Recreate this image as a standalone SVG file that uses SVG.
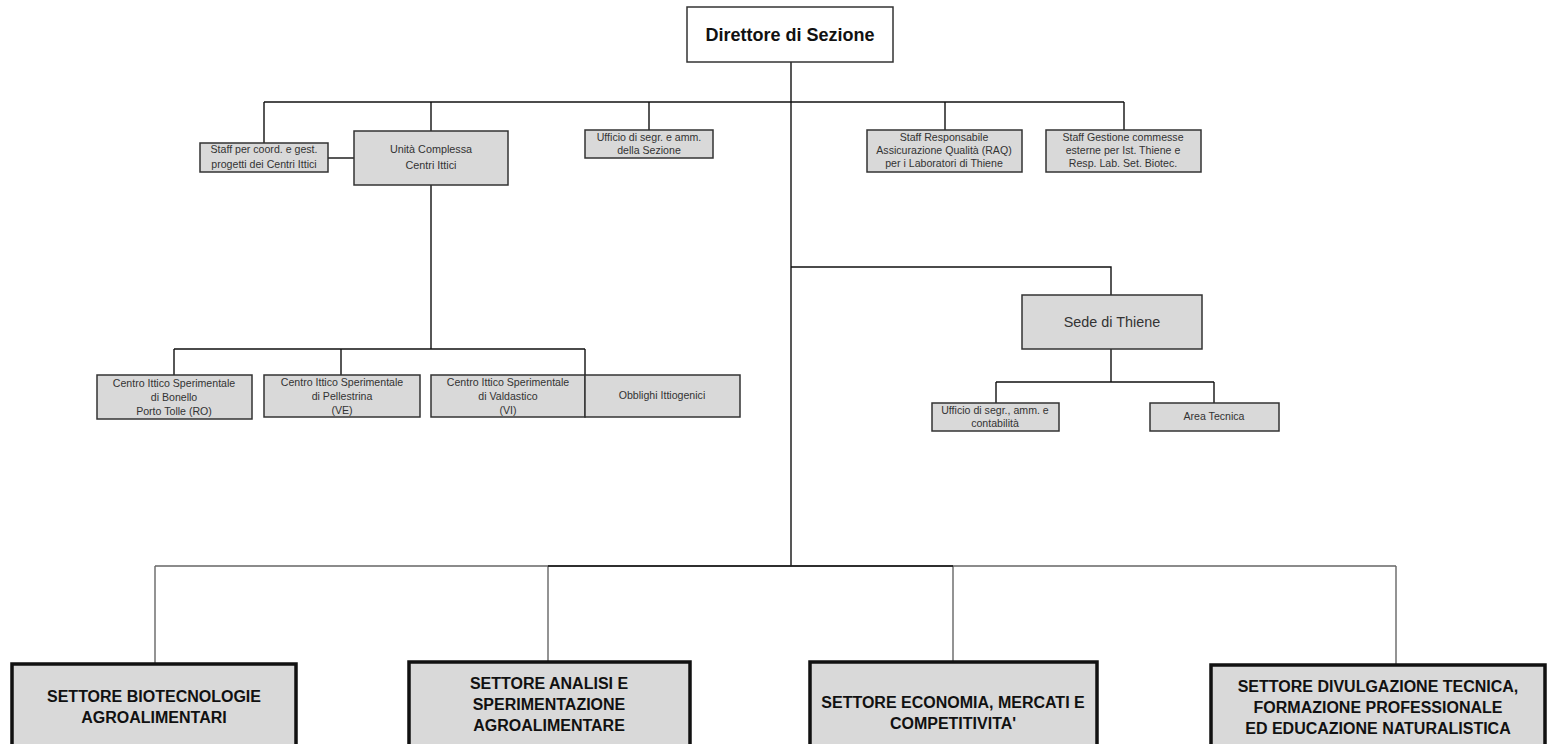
<svg xmlns="http://www.w3.org/2000/svg" width="1552" height="744" viewBox="0 0 1552 744">
<style>
.bx{fill:#d9d9d9;stroke:#333;stroke-width:1.5}
.big{fill:#d9d9d9;stroke:#111;stroke-width:3.5}
.t{font-family:"Liberation Sans",Arial,sans-serif;font-size:10.6px;fill:#333;text-anchor:middle}
.tm{font-family:"Liberation Sans",Arial,sans-serif;font-size:10.8px;fill:#333;text-anchor:middle}
.tb{font-family:"Liberation Sans",Arial,sans-serif;font-size:16px;font-weight:bold;fill:#111;text-anchor:middle}
.ln{fill:none;stroke:#111;stroke-width:1.4}
.lg{fill:none;stroke:#666;stroke-width:1.4}
</style>
<g id="connectors">
<path class="ln" d="M791 62V566"/>
<path class="ln" d="M264 102H1124"/>
<path class="ln" d="M264 102V143M431 102V131M649 102V130M945 102V130M1124 102V130"/>
<path class="ln" d="M328 158H354"/>
<path class="ln" d="M431 185V349M174 349H585M174 349V375M341 349V375M585 349V375"/>
<path class="ln" d="M791 267H1111V295M1111 349V382M996 382H1214M996 382V403M1214 382V403"/>
<path class="lg" d="M155 566H1396M155 566V664M548 566V662M953 566V662M1396 566V665"/>
<path class="ln" d="M548 566H953"/>
</g>
<g id="n-direttore"><rect x="687" y="7" width="206" height="55" fill="#fff" stroke="#333" stroke-width="1.5"/><text class="tb" x="790" y="41" style="font-size:18px">Direttore di Sezione</text></g>
<g id="n-staffcoord"><rect class="bx" x="200" y="143" width="128" height="29"/><text class="t" x="264" y="153">Staff per coord. e gest.</text><text class="t" x="264" y="168">progetti dei Centri Ittici</text></g>
<g id="n-unita"><rect class="bx" x="354" y="131" width="154" height="54"/><text class="tm" x="431" y="153">Unità Complessa</text><text class="tm" x="431" y="169">Centri Ittici</text></g>
<g id="n-ufficio"><rect class="bx" x="585" y="130" width="128" height="28"/><text class="t" x="649" y="141">Ufficio di segr. e amm.</text><text class="t" x="649" y="154">della Sezione</text></g>
<g id="n-raq"><rect class="bx" x="867" y="130" width="155" height="42"/><text class="t" x="944" y="141">Staff Responsabile</text><text class="t" x="944" y="154">Assicurazione Qualità (RAQ)</text><text class="t" x="944" y="167">per i Laboratori di Thiene</text></g>
<g id="n-gestione"><rect class="bx" x="1046" y="130" width="155" height="42"/><text class="t" x="1123" y="141">Staff Gestione commesse</text><text class="t" x="1123" y="154">esterne per Ist. Thiene e</text><text class="t" x="1123" y="167">Resp. Lab. Set. Biotec.</text></g>
<g id="n-bonello"><rect class="bx" x="97" y="375" width="155" height="44"/><text class="t" x="174" y="387">Centro Ittico Sperimentale</text><text class="t" x="174" y="401">di Bonello</text><text class="t" x="174" y="415">Porto Tolle (RO)</text></g>
<g id="n-pellestrina"><rect class="bx" x="264" y="375" width="156" height="42"/><text class="t" x="342" y="386">Centro Ittico Sperimentale</text><text class="t" x="342" y="400">di Pellestrina</text><text class="t" x="342" y="414">(VE)</text></g>
<g id="n-valdastico"><rect class="bx" x="431" y="375" width="154" height="42"/><text class="t" x="508" y="386">Centro Ittico Sperimentale</text><text class="t" x="508" y="400">di Valdastico</text><text class="t" x="508" y="414">(VI)</text></g>
<g id="n-obblighi"><rect class="bx" x="585" y="375" width="155" height="42"/><text class="t" x="662" y="399">Obblighi Ittiogenici</text></g>
<g id="n-sede"><rect class="bx" x="1022" y="295" width="180" height="54"/><text class="tm" x="1112" y="327" style="font-size:14.4px">Sede di Thiene</text></g>
<g id="n-uffthiene"><rect class="bx" x="932" y="403" width="127" height="28"/><text class="t" x="995" y="414">Ufficio di segr., amm. e</text><text class="t" x="995" y="427">contabilità</text></g>
<g id="n-area"><rect class="bx" x="1150" y="403" width="129" height="28"/><text class="t" x="1214" y="420">Area Tecnica</text></g>
<g id="n-biotec"><rect class="big" x="12" y="664" width="284" height="82"/><text class="tb" x="154" y="702">SETTORE BIOTECNOLOGIE</text><text class="tb" x="154" y="723">AGROALIMENTARI</text></g>
<g id="n-analisi"><rect class="big" x="409" y="662" width="281" height="84"/><text class="tb" x="549" y="689">SETTORE ANALISI E</text><text class="tb" x="549" y="710">SPERIMENTAZIONE</text><text class="tb" x="549" y="731">AGROALIMENTARE</text></g>
<g id="n-economia"><rect class="big" x="810" y="662" width="287" height="84"/><text class="tb" x="953" y="708">SETTORE ECONOMIA, MERCATI E</text><text class="tb" x="953" y="729">COMPETITIVITA'</text></g>
<g id="n-divulgazione"><rect class="big" x="1211" y="665" width="334" height="81"/><text class="tb" x="1378" y="692">SETTORE DIVULGAZIONE TECNICA,</text><text class="tb" x="1378" y="713">FORMAZIONE PROFESSIONALE</text><text class="tb" x="1378" y="734">ED EDUCAZIONE NATURALISTICA</text></g>
</svg>
